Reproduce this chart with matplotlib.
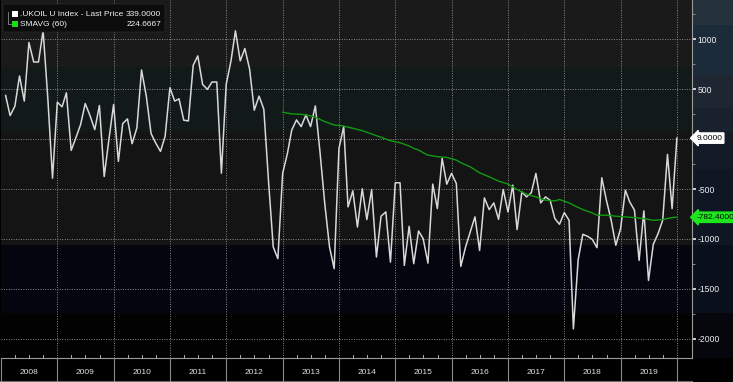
import numpy as np
import pandas as pd
import matplotlib
matplotlib.use("Agg")
import matplotlib.pyplot as plt
from matplotlib.patches import Rectangle, FancyBboxPatch

plt.rcParams["font.family"] = ["Liberation Sans Narrow", "Liberation Sans", "DejaVu Sans"]

# monthly spread, Jan-2008 .. Dec-2019 (month-end)
spread = [
    435, 234, 328, 630, 379, 965, 770, 770, 1082, 395, -392, 368,
    322, 462, -114, 10, 144, 355, 234, 94, 335, -375, -13, 345,
    -224, 154, 201, -47, 111, 690, 429, 54, -40, -124, 27, 513,
    379, 402, 188, 181, 737, 831, 546, 496, 570, 570, -342, 546,
    781, 1082, 781, 905, 697, 288, 429, 298, -411, -1080, -1197, -344,
    -144, 90, 191, 124, 241, 124, 331, -144, -645, -1080, -1297, -94,
    124, -679, -518, -880, -498, -806, -505, -1180, -772, -729, -1231, -438,
    -438, -1264, -873, -1247, -920, -997, -1241, -451, -696, -194, -451, -344,
    -445, -1274, -1080, -930, -779, -1114, -589, -706, -639, -803, -505, -729,
    -461, -906, -528, -579, -538, -344, -639, -579, -612, -796, -853, -736,
    -813, -1899, -1207, -953, -973, -1003, -1087, -388, -612, -813, -1063, -896,
    -512, -629, -712, -1214, -719, -1414, -1053, -946, -813, -154, -696, 9,
]
dates = pd.date_range("2008-01-31", periods=len(spread), freq="ME")

# 60-month SMA, read at anchor months (index into the monthly series, 1-based)
sma_month = [60, 62, 64, 66, 67, 69, 71, 73, 75, 77, 79, 81, 83, 85, 87, 88,
             89, 90, 91, 93, 95, 97, 98, 100, 102, 104, 106, 108, 110, 112, 114, 116, 118,
             119, 121, 122, 124, 126, 127, 129, 131, 133, 135, 137, 139, 141, 143, 144]
sma_value = [268, 251, 247, 231, 217, 174, 140, 130, 107, 84, 50, 17, -17, -37, -70, -94,
             -110, -137, -161, -177, -184, -211, -237, -278, -338, -378, -421, -451, -505, -552, -579, -612, -619,
             -605, -639, -662, -706, -739, -762, -762, -772, -779, -786, -796, -813, -806, -786, -782.4]
sma_dates = dates[np.array(sma_month) - 1]

years = list(range(2008, 2020))
right_ticks = [1000, 500, -500, -1000, -1500, -2000]

W, H = 733, 382
fig = plt.figure(figsize=(W / 100, H / 100), dpi=100, facecolor="#000000")

ax_l, ax_r, ax_t, ax_b = 1, 692, 0, 358
ax = fig.add_axes([ax_l / W, 1 - ax_b / H, (ax_r - ax_l) / W, (ax_b - ax_t) / H])
ax.set_zorder(2)
ylo, yhi = -2190, 1390
ax.set_ylim(ylo, yhi)
x0, x1 = pd.Timestamp("2008-01-01"), pd.Timestamp("2020-04-07")
ax.set_xlim(x0, x1)
ax.set_facecolor("#141414")

# background bands
bands = [(720, yhi, "#1a1a1a"), (70, 720, "#111919"), (-1060, 70, "#141414"),
         (-1740, -1060, "#05050f"), (ylo, -1740, "#020202")]
for lo, hi, c in bands:
    ax.axhspan(lo, hi, color=c, lw=0, zorder=0)

# right value-axis panel
axp = fig.add_axes([ax_r / W, 1 - ax_b / H, (W - ax_r) / W, (ax_b - ax_t) / H])
axp.set_zorder(1)
axp.set_ylim(ylo, yhi)
axp.axis("off")
pbands = [(1140, yhi, "#24323c"), (640, 1140, "#1c2b3a"), (310, 640, "#1e2631"),
          (70, 310, "#19212d"), (-300, 70, "#141b26"), (-1060, -300, "#101724"),
          (-1740, -1060, "#0a0f1c"), (ylo, -1740, "#05070d")]
for lo, hi, c in pbands:
    axp.axhspan(lo, hi, color=c, lw=0)

# grid
grid_kw = dict(color="#8a8a8a", lw=0.7, ls=(0, (1, 1.5)), zorder=1)
for v in [1000, 500, 0, -500, -1000, -1500, -2000]:
    ax.axhline(v, **grid_kw)
for y in years + [2020]:
    if y > 2008:
        ax.axvline(pd.Timestamp(f"{y}-01-01"), **grid_kw)

# series
ax.plot(dates, spread, color="#d8d8d8", lw=1.1, zorder=3)
ax.plot(sma_dates, sma_value, color="#119b11", lw=1.0, zorder=3)

# x axis: year separators, quarter ticks, centred year labels
for s in ["top", "left"]:
    ax.spines[s].set_visible(False)
ax.spines["bottom"].set_color("#9a9a9a")
ax.spines["right"].set_color("#9a9a9a")
ax.spines["bottom"].set_linewidth(0.8)
ax.spines["right"].set_linewidth(0.8)
ax.set_xticks([])
xt = ax.get_xaxis_transform()
for y in years + [2020]:
    d = pd.Timestamp(f"{y}-01-01")
    ax.plot([d, d], [0, -24 / 358], transform=xt, color="#8a8a8a", lw=0.8, clip_on=False, zorder=3)
    if y < 2020:
        for m in (4, 7, 10):
            dq = pd.Timestamp(f"{y}-{m:02d}-01")
            ax.plot([dq, dq], [0, 3 / 358], transform=xt, color="#cfcfcf", lw=0.6, clip_on=False)
        ax.text(pd.Timestamp(f"{y}-07-01"), -15 / 358, str(y), transform=xt, ha="center",
                va="center", color="#e0e0e0", fontsize=6)
fig.add_artist(plt.Line2D([0, ax_r / W], [1 - 381 / H] * 2, color="#6a6a6a", lw=0.8))

# right y axis
ax.yaxis.tick_right()
ax.set_yticks(right_ticks)
ax.set_yticklabels([str(v) for v in right_ticks])
ax.set_yticks([1250, 750, 250, -250, -750, -1250, -1750], minor=True)
ax.tick_params(axis="y", which="major", direction="out", length=3, width=1.2,
               colors="#f0f0f0", labelsize=6.2, pad=1)
ax.tick_params(axis="y", which="minor", direction="out", length=2, width=0.6, colors="#9a9a9a")

# last-value tags
tag_kw = dict(xycoords=("axes fraction", "data"), xytext=(3, 0), textcoords="offset points",
              ha="left", va="center", fontsize=6, color="#000000",
              annotation_clip=False, zorder=5)
ax.annotate(f"{spread[-1]:.4f}", xy=(1.0, spread[-1]),
            bbox=dict(boxstyle="larrow,pad=0.2", fc="#ffffff", ec="#ffffff"), **tag_kw)
ax.annotate(f"{sma_value[-1]:.4f}", xy=(1.0, sma_value[-1]),
            bbox=dict(boxstyle="larrow,pad=0.2", fc="#1ee61e", ec="#1ee61e"), **tag_kw)

# legend box
fig.patches.append(FancyBboxPatch((3 / W, 1 - 32 / H), 162 / W, 28 / H,
                                  boxstyle="round,pad=0,rounding_size=0.004",
                                  transform=fig.transFigure, fc="#0c0c0c", ec="#262626",
                                  lw=0.6, zorder=10))
fig.patches.append(Rectangle((12 / W, 1 - 17 / H), 6 / W, 6 / H, transform=fig.transFigure,
                             fc="#ffffff", ec="none", zorder=11))
fig.patches.append(Rectangle((12 / W, 1 - 27 / H), 6 / W, 6 / H, transform=fig.transFigure,
                             fc="#18e018", ec="none", zorder=11))
fig.add_artist(plt.Line2D([8 / W, 8 / W, 11 / W], [1 - 12 / H, 1 - 24 / H, 1 - 24 / H],
                          color="#8a8a8a", lw=0.6, zorder=11))
txt_kw = dict(color="#f0f0f0", fontsize=6.0, va="center", zorder=12)
fig.text(20 / W, 1 - 14 / H, ".UKOIL U Index - Last Price", ha="left", **txt_kw)
fig.text(161 / W, 1 - 14 / H, "339.0000", ha="right", **txt_kw)
fig.text(20 / W, 1 - 24 / H, "SMAVG (60)", ha="left", **txt_kw)
fig.text(161 / W, 1 - 24 / H, "224.6667", ha="right", **txt_kw)

fig.savefig("out.png", dpi=100, facecolor=fig.get_facecolor())
